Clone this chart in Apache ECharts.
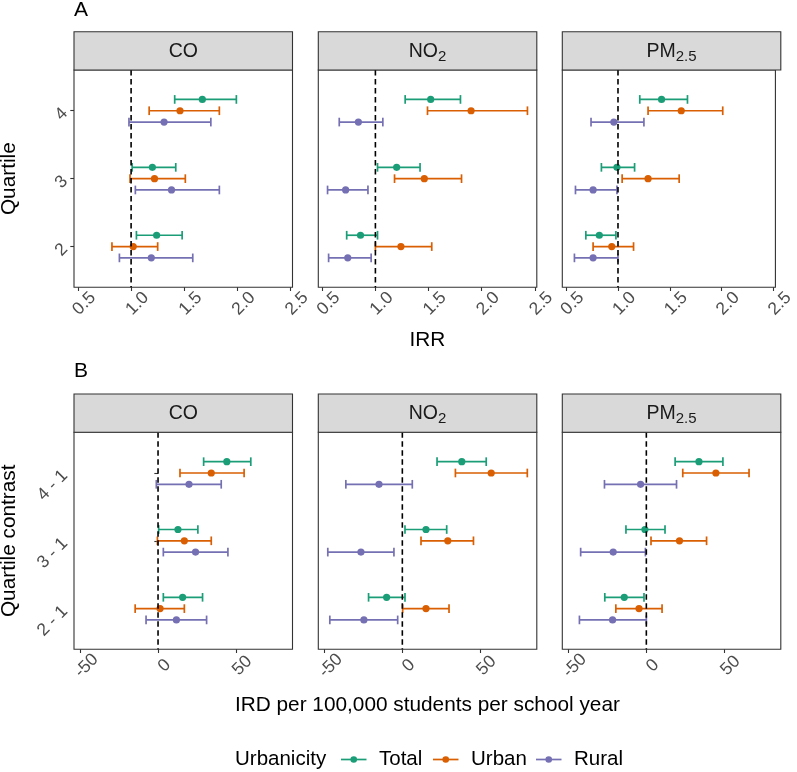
<!DOCTYPE html>
<html>
<head>
<meta charset="utf-8">
<script src="https://cdn.jsdelivr.net/npm/echarts@6/dist/echarts.min.js"></script>
<style>
html,body{margin:0;padding:0;background:#fff;}
#chart{width:797px;height:772px;}
</style>
</head>
<body>
<div id="chart"></div>
<script>
// ---------------- DATA ----------------
const groups = ['Total', 'Urban', 'Rural'];
const quartiles = [2, 3, 4];
const quartileContrastLabels = ['2 - 1', '3 - 1', '4 - 1'];
// strip labels: [main text, subscript]
const pollutants = [['CO', ''], ['NO', '2'], ['PM', '2.5']];
const irrTicks = [0.5, 1.0, 1.5, 2.0, 2.5];
const irdTicks = [-50, 0, 50];

// [estimate, lower, upper] for quartile 2, 3, 4
const irrCO_Total = [[1.24, 1.05, 1.48], [1.20, 1.01, 1.42], [1.67, 1.41, 1.99]];
const irrCO_Urban = [[1.02, 0.82, 1.25], [1.22, 0.99, 1.51], [1.46, 1.17, 1.83]];
const irrCO_Rural = [[1.19, 0.89, 1.58], [1.38, 1.04, 1.83], [1.31, 0.98, 1.75]];

const irrNO2_Total = [[0.86, 0.73, 1.02], [1.20, 1.02, 1.42], [1.52, 1.28, 1.80]];
const irrNO2_Urban = [[1.24, 1.00, 1.53], [1.46, 1.18, 1.81], [1.90, 1.49, 2.43]];
const irrNO2_Rural = [[0.74, 0.56, 0.96], [0.72, 0.55, 0.93], [0.84, 0.66, 1.07]];

const irrPM_Total = [[0.82, 0.69, 0.98], [0.99, 0.84, 1.16], [1.42, 1.21, 1.67]];
const irrPM_Urban = [[0.94, 0.76, 1.15], [1.29, 1.04, 1.59], [1.61, 1.29, 2.01]];
const irrPM_Rural = [[0.76, 0.58, 1.00], [0.76, 0.59, 0.99], [0.96, 0.74, 1.25]];

// [estimate, lower, upper] for contrast 2-1, 3-1, 4-1
const irdCO_Total = [[15.8, 3.4, 28.6], [12.8, 0.4, 25.6], [44.2, 29.3, 59.6]];
const irdCO_Urban = [[1.3, -14.7, 16.9], [16.9, -0.4, 34.2], [34.2, 14.1, 55.3]];
const irdCO_Rural = [[11.8, -7.7, 31.2], [24.1, 3.4, 44.9], [19.9, -1.1, 40.6]];

const irdNO2_Total = [[-10.1, -21.7, 1.7], [15.2, 1.7, 28.5], [38.2, 22.3, 53.9]];
const irdNO2_Urban = [[15.2, 0.2, 30.0], [29.2, 12.0, 45.7], [57.1, 34.1, 80.3]];
const irdNO2_Rural = [[-24.7, -46.6, -3.0], [-26.6, -47.9, -5.4], [-15.0, -36.3, 6.4]];

const irdPM_Total = [[-14.2, -26.7, -1.5], [-0.9, -13.1, 12.0], [33.8, 18.5, 49.2]];
const irdPM_Urban = [[-4.7, -19.6, 10.1], [21.3, 3.0, 38.7], [44.7, 23.4, 66.0]];
const irdPM_Rural = [[-21.7, -43.0, 0.0], [-21.3, -42.2, -0.6], [-3.7, -26.9, 19.4]];

// ---------------- STYLE / LAYOUT ----------------
const colors = {Total: '#1B9E77', Urban: '#D95F02', Rural: '#7570B3'};
const FONT = '"Liberation Sans", Arial, Helvetica, sans-serif';
const TICK_FS = 17.5;
const TITLE_FS = 20.8;
const STRIP_FS = 19.5;
const SUB_FS = 15;
const colLeft = [74, 318.3, 562.3];
const panelW = 218.5;
const panelTop = [70, 432.3];
const panelH = [217.3, 217];
const stripTop = [31.7, 394];
const xRange = [[0.463, 2.518], [-54, 86.4]];
const yRange = [1.4, 4.6];
const refValue = [1, 0];
const dodge = {Total: 0.5 / 3, Urban: 0, Rural: -0.5 / 3};
const capUnits = 0.128;

const panels = [
  {Total: irrCO_Total, Urban: irrCO_Urban, Rural: irrCO_Rural},
  {Total: irrNO2_Total, Urban: irrNO2_Urban, Rural: irrNO2_Rural},
  {Total: irrPM_Total, Urban: irrPM_Urban, Rural: irrPM_Rural},
  {Total: irdCO_Total, Urban: irdCO_Urban, Rural: irdCO_Rural},
  {Total: irdNO2_Total, Urban: irdNO2_Urban, Rural: irdNO2_Rural},
  {Total: irdPM_Total, Urban: irdPM_Urban, Rural: irdPM_Rural}
];

const measureCtx = document.createElement('canvas').getContext('2d');
function textWidth(t, fs) {
  measureCtx.font = fs + 'px ' + FONT;
  return measureCtx.measureText(t).width;
}

const grids = [], xAxes = [], yAxes = [], series = [], graphics = [];

for (let r = 0; r < 2; r++) {
  for (let c = 0; c < 3; c++) {
    const idx = r * 3 + c;
    grids.push({
      left: colLeft[c], top: panelTop[r], width: panelW, height: panelH[r],
      show: true, borderColor: '#333333', borderWidth: 1.1, backgroundColor: '#ffffff',
      containLabel: false
    });
    const ticks = r === 0 ? irrTicks : irdTicks;
    xAxes.push({
      gridIndex: idx, type: 'value', min: xRange[r][0], max: xRange[r][1],
      splitLine: {show: false}, axisLine: {show: false},
      axisTick: {show: true, length: 3.7, customValues: ticks, lineStyle: {color: '#333333', width: 1.1}},
      axisLabel: {
        show: true, customValues: ticks, rotate: 45, fontSize: TICK_FS, color: '#4D4D4D',
        fontFamily: FONT, margin: 10, align: 'center', verticalAlign: 'top',
        formatter: v => r === 0 ? Number(v).toFixed(1) : String(v)
      }
    });
    yAxes.push({
      gridIndex: idx, type: 'value', min: yRange[0], max: yRange[1],
      splitLine: {show: false}, axisLine: {show: false},
      axisTick: {show: c === 0, length: 3.7, customValues: quartiles, lineStyle: {color: '#333333', width: 1.1}},
      axisLabel: {
        show: c === 0, customValues: quartiles, rotate: 45, fontSize: TICK_FS, color: '#4D4D4D',
        fontFamily: FONT, margin: 9, align: 'right', verticalAlign: 'middle',
        formatter: v => r === 0 ? String(v) : quartileContrastLabels[quartiles.indexOf(Number(v))]
      }
    });

    const pd = panels[idx];
    groups.forEach(g => {
      const rows = pd[g];
      series.push({
        type: 'custom', name: g, xAxisIndex: idx, yAxisIndex: idx, silent: true, z: 2,
        data: rows.map((d, i) => [d[1], d[2], quartiles[i] + dodge[g]]),
        encode: {x: [0, 1], y: 2},
        renderItem: function (params, api) {
          const lo = api.value(0), hi = api.value(1), y = api.value(2);
          const p1 = api.coord([lo, y]);
          const p2 = api.coord([hi, y]);
          const h = api.size([0, capUnits])[1] / 2;
          const st = {stroke: colors[g], lineWidth: 1.7, fill: null};
          return {
            type: 'group',
            children: [
              {type: 'line', shape: {x1: p1[0], y1: p1[1], x2: p2[0], y2: p2[1]}, style: st},
              {type: 'line', shape: {x1: p1[0], y1: p1[1] - h, x2: p1[0], y2: p1[1] + h}, style: st},
              {type: 'line', shape: {x1: p2[0], y1: p2[1] - h, x2: p2[0], y2: p2[1] + h}, style: st}
            ]
          };
        }
      });
      series.push({
        type: 'scatter', name: g, xAxisIndex: idx, yAxisIndex: idx, silent: true, z: 3,
        symbol: 'circle', symbolSize: 7.2,
        itemStyle: {color: colors[g], opacity: 1},
        data: rows.map((d, i) => [d[0], quartiles[i] + dodge[g]])
      });
    });
    // reference dashed line
    series.push({
      type: 'custom', xAxisIndex: idx, yAxisIndex: idx, silent: true, z: 5,
      data: [[refValue[r], 3]],
      encode: {x: 0, y: 1},
      renderItem: function (params, api) {
        const p = api.coord([api.value(0), api.value(1)]);
        const cs = params.coordSys;
        return {
          type: 'line',
          shape: {x1: p[0], y1: cs.y, x2: p[0], y2: cs.y + cs.height},
          style: {stroke: '#000000', lineWidth: 1.6, lineDash: [5.5, 3.5]}
        };
      }
    });

    // strip
    graphics.push({
      type: 'rect', z: 10,
      shape: {x: colLeft[c], y: stripTop[r], width: panelW, height: panelTop[r] - stripTop[r]},
      style: {fill: '#D9D9D9', stroke: '#333333', lineWidth: 1.1}
    });
    const mainT = pollutants[c][0], subT = pollutants[c][1];
    const wMain = textWidth(mainT, STRIP_FS);
    const wSub = subT ? textWidth(subT, SUB_FS) : 0;
    const startX = colLeft[c] + panelW / 2 - (wMain + wSub) / 2;
    const midY = (stripTop[r] + panelTop[r]) / 2 + 0.6;
    graphics.push({
      type: 'text', z: 11,
      style: {x: startX, y: midY, text: mainT, fontSize: STRIP_FS, fontFamily: FONT,
        fill: '#1A1A1A', align: 'left', verticalAlign: 'middle'}
    });
    if (subT) {
      graphics.push({
        type: 'text', z: 11,
        style: {x: startX + wMain, y: midY + 5.3, text: subT, fontSize: SUB_FS, fontFamily: FONT,
          fill: '#1A1A1A', align: 'left', verticalAlign: 'middle'}
      });
    }
  }
}

// tags and titles
const centerX = (colLeft[0] + colLeft[2] + panelW) / 2;
graphics.push({type: 'text', style: {x: 74, y: 10, text: 'A', fontSize: 21, fontFamily: FONT, fill: '#000', align: 'left', verticalAlign: 'middle'}});
graphics.push({type: 'text', style: {x: 74, y: 371, text: 'B', fontSize: 21, fontFamily: FONT, fill: '#000', align: 'left', verticalAlign: 'middle'}});
graphics.push({type: 'text', style: {x: centerX, y: 340, text: 'IRR', fontSize: TITLE_FS, fontFamily: FONT, fill: '#000', align: 'center', verticalAlign: 'middle'}});
graphics.push({type: 'text', style: {x: centerX, y: 705, text: 'IRD per 100,000 students per school year', fontSize: TITLE_FS, fontFamily: FONT, fill: '#000', align: 'center', verticalAlign: 'middle'}});
graphics.push({type: 'text', x: 9, y: panelTop[0] + panelH[0] / 2, rotation: Math.PI / 2,
  style: {x: 0, y: 0, text: 'Quartile', fontSize: TITLE_FS, fontFamily: FONT, fill: '#000', align: 'center', verticalAlign: 'middle'}});
graphics.push({type: 'text', x: 9, y: panelTop[1] + panelH[1] / 2, rotation: Math.PI / 2,
  style: {x: 0, y: 0, text: 'Quartile contrast', fontSize: TITLE_FS, fontFamily: FONT, fill: '#000', align: 'center', verticalAlign: 'middle'}});

// legend
const legendY = 759.5;
graphics.push({type: 'text', style: {x: 235, y: legendY, text: 'Urbanicity', fontSize: 20.5, fontFamily: FONT, fill: '#000', align: 'left', verticalAlign: 'middle'}});
const legendKeyX = [341, 433, 536];
groups.forEach((g, i) => {
  const kx = legendKeyX[i];
  graphics.push({type: 'line', shape: {x1: kx, y1: legendY, x2: kx + 25.5, y2: legendY}, style: {stroke: colors[g], lineWidth: 1.7}});
  graphics.push({type: 'circle', shape: {cx: kx + 12.75, cy: legendY, r: 3.3}, style: {fill: colors[g]}});
  graphics.push({type: 'text', style: {x: kx + 38, y: legendY, text: g, fontSize: 20.5, fontFamily: FONT, fill: '#000', align: 'left', verticalAlign: 'middle'}});
});

const chart = echarts.init(document.getElementById('chart'), null, {renderer: 'canvas'});
chart.setOption({
  animation: false,
  backgroundColor: '#ffffff',
  textStyle: {fontFamily: FONT},
  grid: grids,
  xAxis: xAxes,
  yAxis: yAxes,
  series: series,
  graphic: {elements: graphics}
});
</script>
</body>
</html>
